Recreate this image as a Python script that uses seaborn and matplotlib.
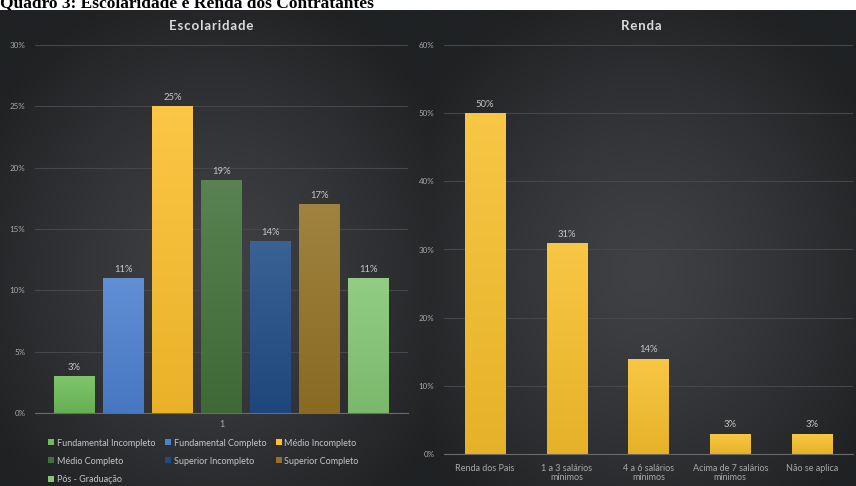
import numpy as np
import pandas as pd
import matplotlib
matplotlib.use("Agg")
import matplotlib.pyplot as plt
from matplotlib.ticker import MultipleLocator, StrMethodFormatter
from matplotlib.lines import Line2D
from matplotlib.colors import to_rgb
import seaborn as sns

# Escolaridade (percent of contractors)
escolaridade = ["Fundamental Incompleto", "Fundamental Completo", "Médio Incompleto",
                "Médio Completo", "Superior Incompleto", "Superior Completo", "Pós - Graduação"]
escolaridade_pct = [3, 11, 25, 19, 14, 17, 11]
escolaridade_cores = ["#6dbd58", "#4c80d0", "#fbbf2c", "#43713a", "#204c86", "#937225", "#84c674"]

# Renda (percent of contractors)
renda = ["Renda dos Pais", "1 a 3 salários\nmínimos", "4 a 6 salários\nmínimos",
         "Acima de 7 salários\nmínimos", "Não se aplica"]
renda_pct = [50, 31, 14, 3, 3]
renda_cor = "#f7bf2b"

sns.set_theme(style="dark")
plt.rcParams["font.family"] = ["Lato", "DejaVu Sans"]

TICK = "#a9a9a9"
GRID = "#45474a"
LABEL = "#c6c6c6"

fig = plt.figure(figsize=(8.56, 4.86), dpi=100)
fig.patch.set_facecolor("white")


def panel_background(rect):
    bg = fig.add_axes(rect, zorder=0)
    h, w = 200, 200
    yy, xx = np.mgrid[0:h, 0:w]
    cx, cy = w * 0.5, h * 0.55
    r = np.sqrt(((xx - cx) / (w * 0.62)) ** 2 + ((yy - cy) / (h * 0.62)) ** 2)
    r = np.clip(r, 0, 1) ** 1.3
    center = np.array([0x3f, 0x41, 0x44]) / 255
    edge = np.array([0x1f, 0x21, 0x23]) / 255
    img = center[None, None, :] * (1 - r[..., None]) + edge[None, None, :] * r[..., None]
    bg.imshow(img, aspect="auto", interpolation="bicubic", extent=(0, 1, 0, 1))
    bg.set_axis_off()


panel_background([0.0, 0.0, 0.5, 476 / 486])
panel_background([0.5, 0.0, 0.5, 476 / 486])

# Caption strip at the very top, partly hidden behind the chart panels
fig.text(0.0, 1.0 - 7 / 486, "Quadro 3: Escolaridade e Renda dos Contratantes",
         family="Liberation Serif", weight="bold", fontsize=12.5, color="black",
         ha="left", va="baseline", zorder=-1)


def style_axes(ax, top, step):
    ax.set_facecolor("none")
    ax.set_ylim(0, top)
    ax.yaxis.set_major_locator(MultipleLocator(step))
    ax.yaxis.set_major_formatter(StrMethodFormatter("{x:.0f}%"))
    ax.grid(axis="y", color=GRID, linewidth=0.8)
    ax.grid(axis="x", visible=False)
    for s in ["top", "right", "left"]:
        ax.spines[s].set_visible(False)
    ax.spines["bottom"].set_color("#6a6b6d")
    ax.spines["bottom"].set_linewidth(0.8)
    ax.tick_params(axis="y", colors=TICK, labelsize=5.8, length=0, pad=7)
    ax.tick_params(axis="x", colors=TICK, labelsize=6.5, length=0, pad=5)
    ax.set_xlabel("")
    ax.set_ylabel("")
    ax.set_axisbelow(True)


def shade_bars(ax):
    """Overlay a soft vertical gradient on every bar, clipped to the bar itself."""
    for patch in list(ax.patches):
        x0, y0 = patch.get_x(), patch.get_y()
        w, h = patch.get_width(), patch.get_height()
        if h <= 0:
            continue
        base = np.array(to_rgb(patch.get_facecolor()))
        t = np.linspace(0, 1, 64)[:, None]
        top = base + (1 - base) * 0.12
        bottom = base * 0.93
        grad = top[None, :] * (1 - t) + bottom[None, :] * t
        im = ax.imshow(grad[:, None, :], extent=(x0, x0 + w, y0, y0 + h),
                       aspect="auto", interpolation="bilinear", zorder=patch.get_zorder() + 0.1)
        im.set_clip_path(patch)


# Left chart: Escolaridade
ax1 = fig.add_axes([35 / 856, 73 / 486, 373 / 856, 368 / 486], zorder=2)
df1 = pd.DataFrame({"grupo": ["1"] * len(escolaridade),
                    "categoria": escolaridade, "pct": escolaridade_pct})
sns.barplot(data=df1, x="grupo", y="pct", hue="categoria", hue_order=escolaridade,
            palette=dict(zip(escolaridade, escolaridade_cores)), width=0.92, gap=0.18,
            saturation=1, linewidth=0, edgecolor="none", ax=ax1, legend=True)
ax1.set_xlim(-0.5, 0.5)
style_axes(ax1, 30, 5)
shade_bars(ax1)
ax1.set_xlim(-0.5, 0.5)
ax1.set_ylim(0, 30)
for c in ax1.containers:
    ax1.bar_label(c, fmt="%d%%", color=LABEL, fontsize=6.8, padding=3)
ax1.get_legend().remove()
order = [0, 3, 6, 1, 4, 2, 5]
handles = [Line2D([], [], marker="s", linestyle="none", markersize=4,
                  markerfacecolor=escolaridade_cores[i], markeredgewidth=0) for i in order]
labels = [escolaridade[i] for i in order]
fig.legend(handles, labels, ncol=3, loc="upper left",
           bbox_to_anchor=(45 / 856, 1 - 435 / 486), frameon=False,
           fontsize=6.5, labelcolor=LABEL, handlelength=0.6,
           handletextpad=0.35, columnspacing=1.05, labelspacing=1.0,
           borderaxespad=0)

# Right chart: Renda
ax2 = fig.add_axes([444 / 856, 32 / 486, 409 / 856, 409 / 486], zorder=2)
df2 = pd.DataFrame({"faixa": renda, "pct": renda_pct})
sns.barplot(data=df2, x="faixa", y="pct", color=renda_cor, width=0.49,
            saturation=1, linewidth=0, edgecolor="none", ax=ax2)
style_axes(ax2, 60, 10)
xl = ax2.get_xlim()
shade_bars(ax2)
ax2.set_xlim(xl)
ax2.set_ylim(0, 60)
for c in ax2.containers:
    ax2.bar_label(c, fmt="%d%%", color=LABEL, fontsize=6.8, padding=3)
ax2.tick_params(axis="x", pad=7)
for t in ax2.get_xticklabels():
    t.set_linespacing(1.1)

# Panel titles, centred on each chart panel
hair = "\u200a"
fig.text(211 / 856, 1 - 26 / 486, hair.join("Escolaridade"), color="#dcdcdc",
         fontsize=9.5, weight="bold", ha="center", va="center", zorder=3)
fig.text(641 / 856, 1 - 26 / 486, hair.join("Renda"), color="#dcdcdc",
         fontsize=9.5, weight="bold", ha="center", va="center", zorder=3)

fig.savefig("out.png", dpi=100)
